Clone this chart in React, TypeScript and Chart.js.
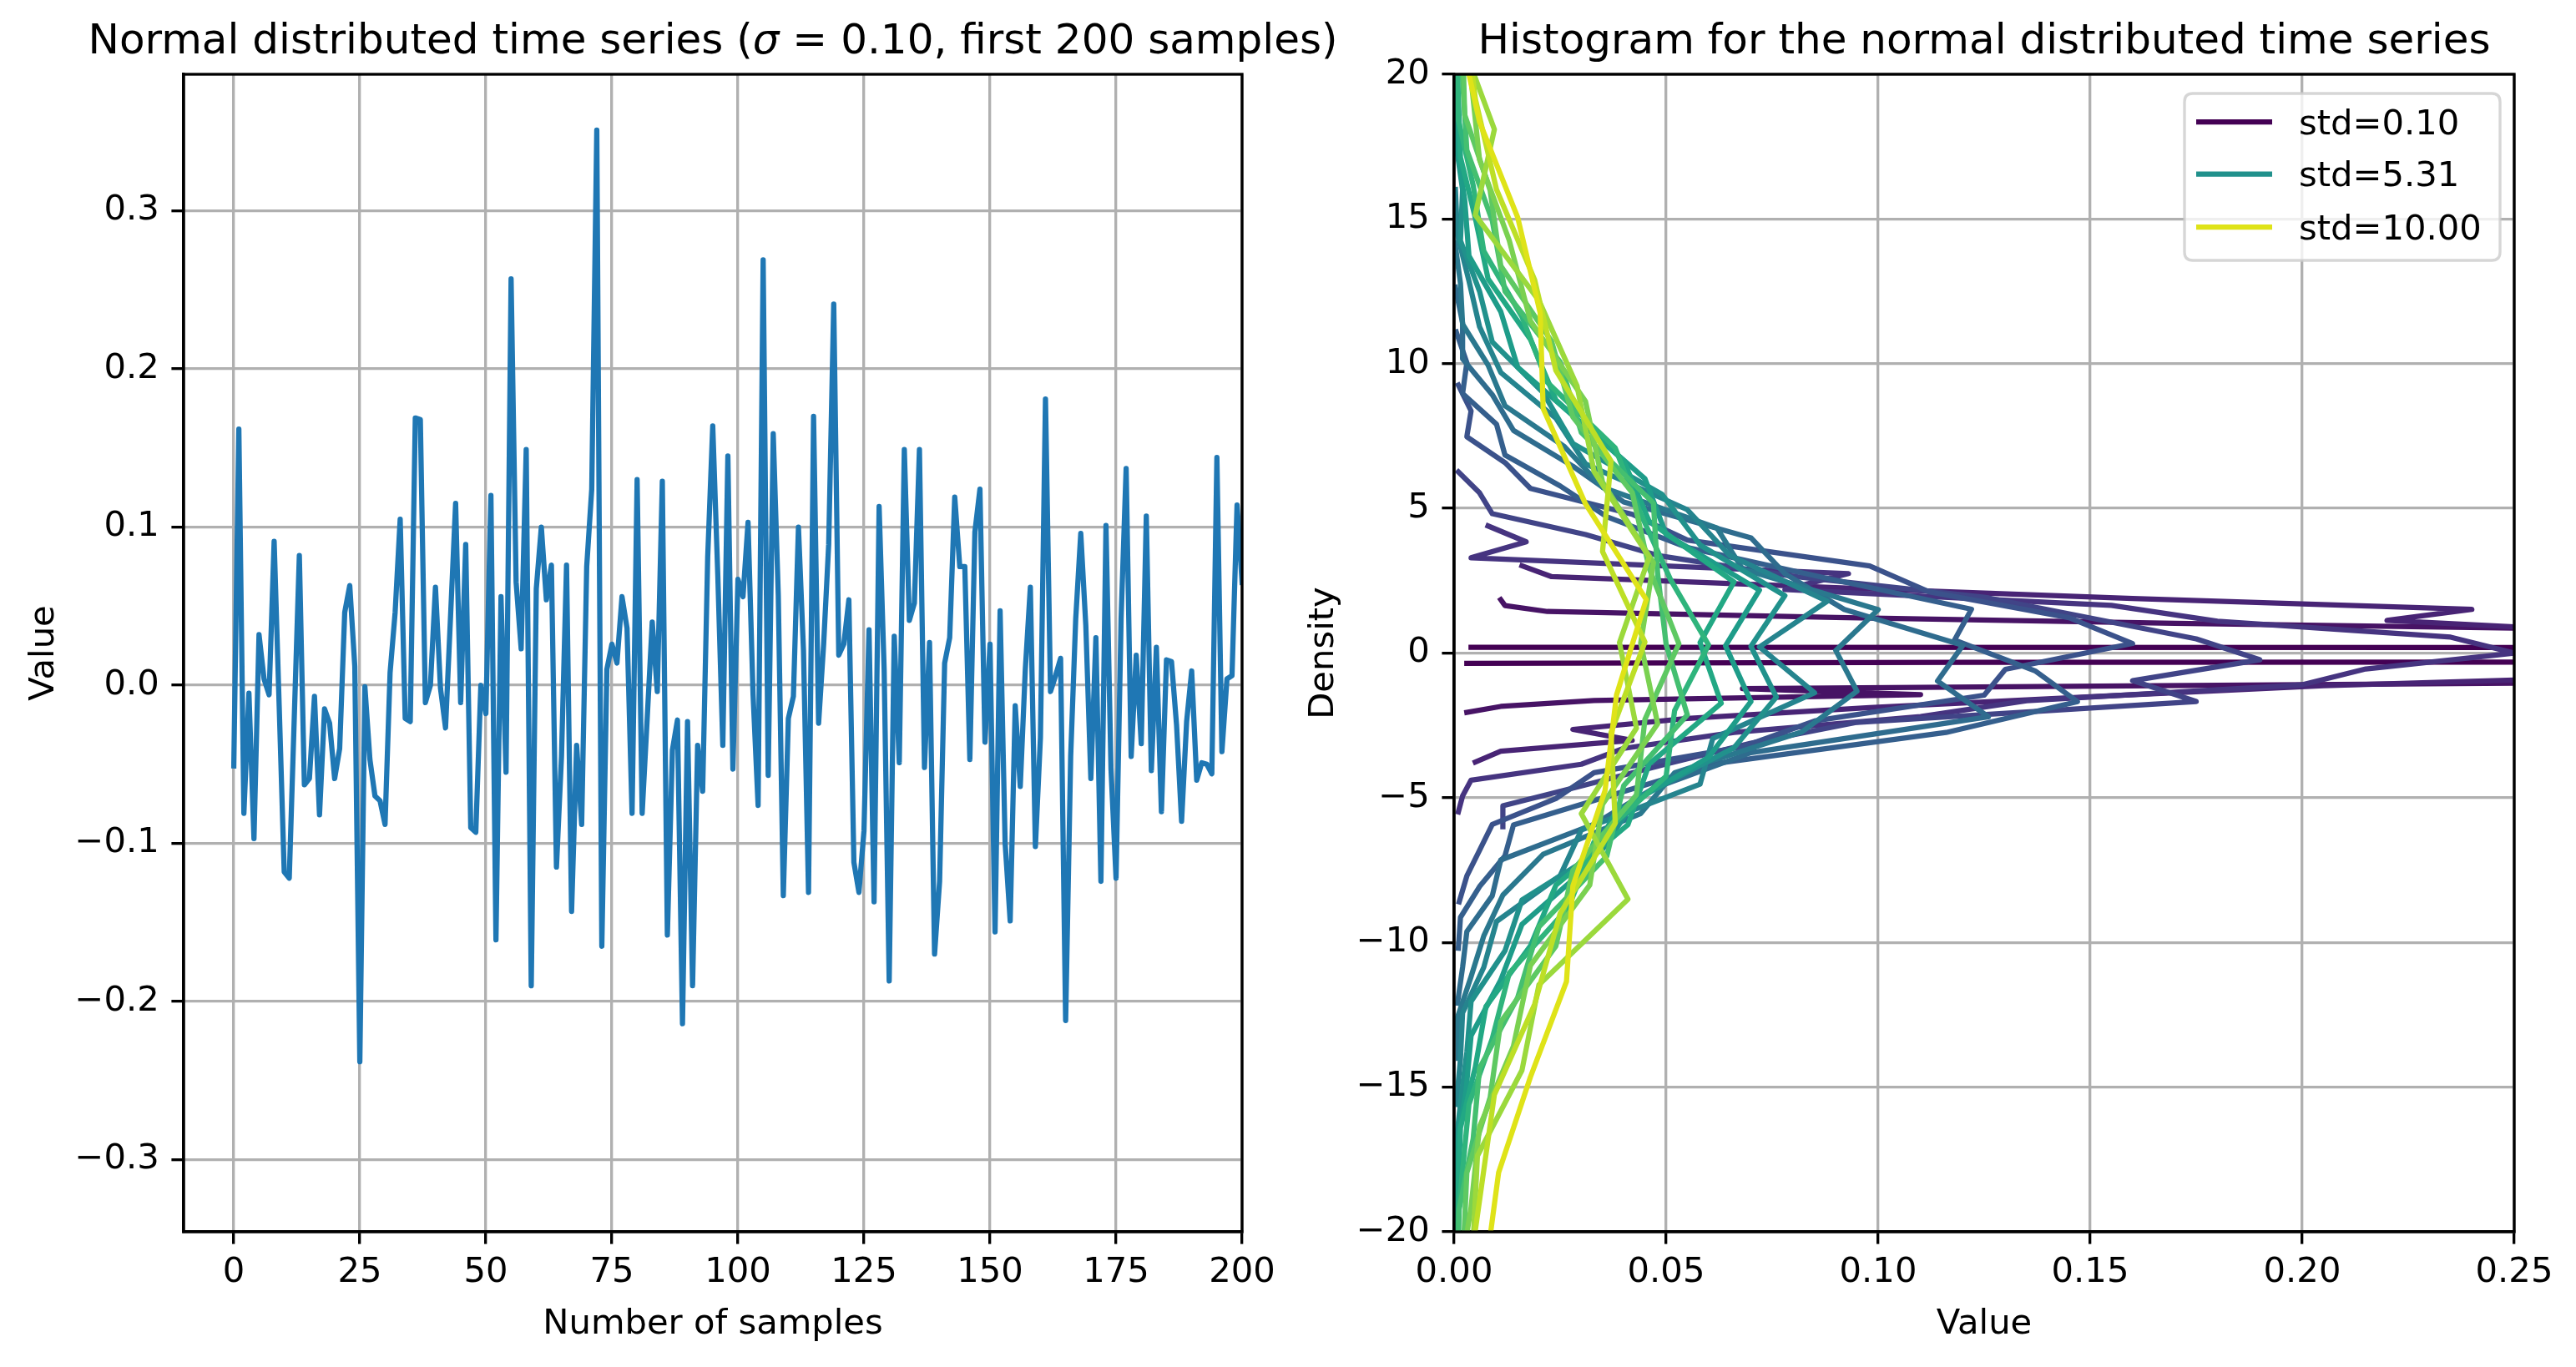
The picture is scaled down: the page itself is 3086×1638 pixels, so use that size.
import React, { useEffect, useRef } from "react";
import { Chart, registerables } from "chart.js";

Chart.register(...registerables);

const FONT_FAMILY = "'DejaVu Sans', 'Liberation Sans', sans-serif";
const TICK_SIZE = 41.7;
const LABEL_SIZE = 41.7;
const TITLE_SIZE = 50;
const LINE_W = 6.25;
const SPINE_W = 3.33;
const GRID_COLOR = "#b0b0b0";

// ---------- Left chart data: first 200 samples of the sigma = 0.10 series ----------
const timeSeries = [
  -0.051, 0.162, -0.081, -0.005, -0.097, 0.032, 0.004, -0.006, 0.091, -0.013,
  -0.118, -0.122, -0.02, 0.082, -0.063, -0.059, -0.007, -0.082, -0.015, -0.024,
  -0.059, -0.04, 0.046, 0.063, 0.012, -0.238, -0.001, -0.047, -0.07, -0.073,
  -0.088, 0.008, 0.046, 0.105, -0.021, -0.023, 0.169, 0.168, -0.011, 0.0,
  0.062, -0.002, -0.027, 0.044, 0.115, -0.011, 0.089, -0.09, -0.093, 0.0,
  -0.018, 0.12, -0.161, 0.056, -0.055, 0.257, 0.065, 0.023, 0.149, -0.19,
  0.061, 0.1, 0.054, 0.076, -0.115, -0.045, 0.076, -0.143, -0.038, -0.088,
  0.075, 0.124, 0.351, -0.165, 0.01, 0.026, 0.014, 0.056, 0.036, -0.081,
  0.13, -0.081, -0.021, 0.04, -0.004, 0.129, -0.158, -0.041, -0.022, -0.214,
  -0.023, -0.19, -0.038, -0.067, 0.081, 0.164, 0.07, -0.038, 0.145, -0.053,
  0.067, 0.056, 0.103, -0.006, -0.076, 0.269, -0.057, 0.159, 0.057, -0.133,
  -0.021, -0.007, 0.1, 0.022, -0.131, 0.17, -0.024, 0.026, 0.089, 0.241,
  0.019, 0.026, 0.054, -0.112, -0.131, -0.092, 0.035, -0.137, 0.113, 0.01,
  -0.187, 0.031, -0.049, 0.149, 0.041, 0.052, 0.149, -0.052, 0.027, -0.17,
  -0.124, 0.014, 0.03, 0.119, 0.075, 0.075, -0.047, 0.097, 0.124, -0.036,
  0.026, -0.156, 0.047, -0.1, -0.149, -0.013, -0.064, 0.01, 0.062, -0.102,
  -0.033, 0.181, -0.004, 0.006, 0.017, -0.212, -0.045, 0.042, 0.096, 0.038,
  -0.059, 0.03, -0.124, 0.101, -0.053, -0.122, 0.042, 0.137, -0.045, 0.019,
  -0.037, 0.107, -0.054, 0.024, -0.08, 0.016, 0.015, -0.025, -0.086, -0.023,
  0.009, -0.06, -0.049, -0.05, -0.056, 0.144, -0.042, 0.004, 0.006, 0.114,
  0.065,
];
const leftXTicks = [0, 25, 50, 75, 100, 125, 150, 175, 200];
const leftXTickLabels = ["0", "25", "50", "75", "100", "125", "150", "175", "200"];
const leftYTicks = [-0.3, -0.2, -0.1, 0.0, 0.1, 0.2, 0.3];
const leftYTickLabels = ["\u22120.3", "\u22120.2", "\u22120.1", "0.0", "0.1", "0.2", "0.3"];

// ---------- Right chart data: histograms (density on x, bin centre on y) ----------
const stds = [0.10, 0.62, 1.14, 1.66, 2.18, 2.71, 3.23, 3.75, 4.27, 4.79, 5.31, 5.83, 6.35, 6.87, 7.40, 7.92, 8.44, 8.96, 9.48, 10.00];
const binStarts = [-0.36, -2.05, -3.77, -5.49, -6.0, -8.6, -10.2, -12.1, -14.0, -15.6, -17.3, -19.0, -20.6, -22.4, -24.1, -25.8, -27.5, -29.2, -30.9, -31.15];
const binWidths = [0.04, 0.205, 0.377, 0.549, 0.721, 0.893, 1.065, 1.237, 1.409, 1.581, 1.753, 1.925, 2.096, 2.268, 2.44, 2.612, 2.784, 2.956, 3.128, 3.3];
const seriesColors = [
  "#440154", "#471365", "#482475", "#463480", "#414487", "#3b528b", "#355f8d", "#2f6c8e", "#2a788e", "#25848e",
  "#21918c", "#1e9c89", "#22a884", "#2fb47c", "#44bf70", "#5ec962", "#7ad151", "#9bd93c", "#bddf26", "#dfe318",
];
const legendIndices = [0, 10, 19];

const dens0 = [0.003, 0.12, 0.75, 1.4, 2.3, 3.1, 3.6, 4.1, 4.3, 4.0, 3.6, 3.0, 2.0, 0.9, 0.004];
const dens1 = [0.003, 0.011, 0.033, 0.11, 0.068, 0.27, 0.40, 0.50, 0.61, 0.63, 0.66, 0.60, 0.54, 0.40, 0.27, 0.17, 0.09, 0.022, 0.012, 0.011];
const dens2 = [0.005, 0.011, 0.042, 0.028, 0.055, 0.098, 0.15, 0.205, 0.29, 0.325, 0.36, 0.34, 0.27, 0.22, 0.24, 0.16, 0.09, 0.023, 0.016];
const dens3 = [0.001, 0.002, 0.004, 0.030, 0.040, 0.066, 0.11, 0.135, 0.20, 0.215, 0.25, 0.235, 0.18, 0.155, 0.078, 0.093, 0.004, 0.017, 0.008];
const dens4 = [0.0115, 0.0115, 0.031, 0.05, 0.07, 0.095, 0.175, 0.16, 0.19, 0.175, 0.15, 0.125, 0.08, 0.048, 0.031, 0.009, 0.006, 0.001];
const dens5 = [0.0012, 0.003, 0.006, 0.009, 0.024, 0.033, 0.068, 0.085, 0.125, 0.13, 0.16, 0.145, 0.112, 0.098, 0.055, 0.042, 0.018, 0.012, 0.003, 0.004, 0.001];
const dens6 = [0.001, 0.0015, 0.006, 0.012, 0.014, 0.038, 0.062, 0.116, 0.147, 0.137, 0.118, 0.122, 0.088, 0.055, 0.036, 0.025, 0.012, 0.01, 0.002, 0.003, 0.0005];
const dens7 = [0.0008, 0.002, 0.003, 0.009, 0.011, 0.033, 0.047, 0.07, 0.126, 0.114, 0.12, 0.092, 0.078, 0.07, 0.04, 0.028, 0.014, 0.009, 0.002, 0.002, 0.0003];
const dens8 = [0.001, 0.0008, 0.004, 0.007, 0.0115, 0.021, 0.044, 0.052, 0.082, 0.095, 0.09, 0.1, 0.068, 0.062, 0.035, 0.026, 0.012, 0.008, 0.002, 0.0015, 0.0002];
const dens9 = [0.0005, 0.0015, 0.002, 0.007, 0.01, 0.025, 0.03, 0.058, 0.061, 0.085, 0.072, 0.088, 0.065, 0.055, 0.031, 0.024, 0.011, 0.006, 0.0035, 0.0008, 0.0003];
const dens10 = [0.0002, 0.0015, 0.003, 0.004, 0.012, 0.016, 0.035, 0.043, 0.066, 0.076, 0.07, 0.078, 0.058, 0.049, 0.028, 0.021, 0.009, 0.006, 0.0015, 0.002, 0.0003];
const dens11 = [0.0004, 0.0006, 0.0028, 0.004, 0.011, 0.016, 0.031, 0.038, 0.06, 0.07, 0.064, 0.072, 0.05, 0.045, 0.03, 0.015, 0.011, 0.0035, 0.0025, 0.0006, 0.0002];
const dens12 = [0.0003, 0.001, 0.0015, 0.005, 0.0075, 0.018, 0.024, 0.041, 0.046, 0.063, 0.058, 0.066, 0.046, 0.04, 0.024, 0.018, 0.008, 0.005, 0.0015, 0.001, 0.0002];
const dens13 = [0.0002, 0.0005, 0.002, 0.0035, 0.009, 0.013, 0.027, 0.033, 0.05, 0.052, 0.06, 0.051, 0.044, 0.038, 0.022, 0.016, 0.007, 0.0045, 0.001, 0.0008, 0.0001];
const dens14 = [0.0001, 0.0008, 0.0012, 0.0045, 0.006, 0.015, 0.02, 0.036, 0.04, 0.055, 0.05, 0.048, 0.047, 0.03, 0.025, 0.012, 0.009, 0.003, 0.002, 0.0004, 0.0002];
const dens15 = [0.0003, 0.0004, 0.0022, 0.003, 0.0085, 0.011, 0.024, 0.028, 0.043, 0.045, 0.053, 0.046, 0.042, 0.028, 0.023, 0.011, 0.0085, 0.0025, 0.002, 0.0004, 0.0002];
const dens16 = [0.0001, 0.0007, 0.001, 0.004, 0.006, 0.014, 0.018, 0.032, 0.035, 0.048, 0.044, 0.047, 0.035, 0.031, 0.018, 0.013, 0.006, 0.004, 0.0012, 0.0006, 0.0001];
const dens17 = [0.0002, 0.0004, 0.0016, 0.0045, 0.0055, 0.016, 0.02, 0.041, 0.03, 0.043, 0.039, 0.046, 0.033, 0.029, 0.02, 0.005, 0.0095, 0.002, 0.0012, 0.0005, 0.0001];
const dens18 = [0.0001, 0.0006, 0.0011, 0.0035, 0.0065, 0.0095, 0.019, 0.025, 0.038, 0.037, 0.045, 0.035, 0.037, 0.024, 0.019, 0.01, 0.005, 0.0025, 0.0014, 0.0004, 0.0001];
const dens19 = [0.0002, 0.0005, 0.0014, 0.0075, 0.0105, 0.018, 0.0265, 0.028, 0.0356, 0.0383, 0.0453, 0.031, 0.021, 0.0203, 0.015, 0.006, 0.001, 0.0012, 0.0004, 0.0001, 0.0001];
const densities = [dens0, dens1, dens2, dens3, dens4, dens5, dens6, dens7, dens8, dens9, dens10, dens11, dens12, dens13, dens14, dens15, dens16, dens17, dens18, dens19];

const rightXTicks = [0, 0.05, 0.1, 0.15, 0.2, 0.25];
const rightXTickLabels = ["0.00", "0.05", "0.10", "0.15", "0.20", "0.25"];
const rightYTicks = [-20, -15, -10, -5, 0, 5, 10, 15, 20];
const rightYTickLabels = ["\u221220", "\u221215", "\u221210", "\u22125", "0", "5", "10", "15", "20"];

// ---------- helpers ----------
type Piece = { text: string; italic?: boolean };

function fontStr(size: number, italic?: boolean) {
  return `${italic ? "italic " : ""}${size}px ${FONT_FAMILY}`;
}

function drawCentered(ctx: CanvasRenderingContext2D, pieces: Piece[], cx: number, baseline: number, size: number) {
  let total = 0;
  const widths = pieces.map((p) => {
    ctx.font = fontStr(size, p.italic);
    const w = ctx.measureText(p.text).width;
    total += w;
    return w;
  });
  let x = cx - total / 2;
  ctx.textAlign = "left";
  ctx.textBaseline = "alphabetic";
  pieces.forEach((p, i) => {
    ctx.font = fontStr(size, p.italic);
    ctx.fillText(p.text, x, baseline);
    x += widths[i];
  });
}

type DecorOpts = {
  title: Piece[];
  xLabel: string;
  yLabel: string;
  yLabelX: number;
  legend?: boolean;
};

function decorPlugin(opts: DecorOpts) {
  return {
    id: "decor",
    afterDraw(chart: any) {
      const { ctx, chartArea } = chart;
      const { left, right, top, bottom } = chartArea;
      ctx.save();
      ctx.strokeStyle = "#000";
      ctx.lineWidth = SPINE_W;
      ctx.strokeRect(left, top, right - left, bottom - top);
      ctx.fillStyle = "#000";
      const cx = (left + right) / 2;
      drawCentered(ctx, opts.title, cx, 64, TITLE_SIZE);
      drawCentered(ctx, [{ text: opts.xLabel }], cx, 1598, LABEL_SIZE);
      ctx.save();
      ctx.translate(opts.yLabelX, (top + bottom) / 2);
      ctx.rotate(-Math.PI / 2);
      ctx.font = fontStr(LABEL_SIZE);
      ctx.textAlign = "center";
      ctx.textBaseline = "alphabetic";
      ctx.fillText(opts.yLabel, 0, 0);
      ctx.restore();

      if (opts.legend) {
        const bw = 378;
        const bh = 200;
        const bx = right - 17 - bw;
        const by = top + 23;
        const r = 10;
        ctx.beginPath();
        ctx.moveTo(bx + r, by);
        ctx.lineTo(bx + bw - r, by);
        ctx.quadraticCurveTo(bx + bw, by, bx + bw, by + r);
        ctx.lineTo(bx + bw, by + bh - r);
        ctx.quadraticCurveTo(bx + bw, by + bh, bx + bw - r, by + bh);
        ctx.lineTo(bx + r, by + bh);
        ctx.quadraticCurveTo(bx, by + bh, bx, by + bh - r);
        ctx.lineTo(bx, by + r);
        ctx.quadraticCurveTo(bx, by, bx + r, by);
        ctx.closePath();
        ctx.fillStyle = "rgba(255,255,255,0.8)";
        ctx.fill();
        ctx.strokeStyle = "rgba(204,204,204,0.8)";
        ctx.lineWidth = SPINE_W;
        ctx.stroke();
        const rows = [34, 96.5, 160];
        legendIndices.forEach((si, j) => {
          const ry = by + rows[j];
          ctx.strokeStyle = seriesColors[si];
          ctx.lineWidth = LINE_W;
          ctx.lineCap = "butt";
          ctx.beginPath();
          ctx.moveTo(bx + 14, ry);
          ctx.lineTo(bx + 105, ry);
          ctx.stroke();
          ctx.fillStyle = "#000";
          ctx.font = fontStr(LABEL_SIZE);
          ctx.textAlign = "left";
          ctx.textBaseline = "alphabetic";
          ctx.fillText(`std=${stds[si].toFixed(2)}`, bx + 137, ry + 14.5);
        });
      }
      ctx.restore();
    },
  };
}

function axisCommon(ticks: number[], labels: string[], padding: number) {
  return {
    type: "linear" as const,
    afterBuildTicks: (scale: any) => {
      scale.ticks = ticks.map((v) => ({ value: v }));
    },
    grid: {
      color: GRID_COLOR,
      lineWidth: SPINE_W,
      drawTicks: true,
      tickLength: 14.6,
      tickColor: "#000",
      tickWidth: SPINE_W,
    },
    border: { display: true, color: "#000", width: SPINE_W },
    ticks: {
      color: "#000",
      font: { family: FONT_FAMILY, size: TICK_SIZE },
      padding,
      maxRotation: 0,
      autoSkip: false,
      callback: (_v: any, i: number) => labels[i],
    },
  };
}

const LEFT_W = 1720;
const RIGHT_X = 1560;
const RIGHT_W = 3086 - RIGHT_X;

function leftConfig(): any {
  return {
    type: "line",
    data: {
      datasets: [
        {
          data: timeSeries.map((v, i) => ({ x: i, y: v })),
          borderColor: "#1f77b4",
          borderWidth: LINE_W,
          pointRadius: 0,
          tension: 0,
          fill: false,
          clip: 0,
          borderJoinStyle: "round",
          borderCapStyle: "square",
        },
      ],
    },
    options: {
      animation: false,
      responsive: false,
      maintainAspectRatio: false,
      devicePixelRatio: 1,
      events: [],
      layout: { padding: { left: 0, top: 89, right: LEFT_W - 1488, bottom: 0 } },
      plugins: { legend: { display: false }, tooltip: { enabled: false }, title: { display: false } },
      scales: {
        x: {
          ...axisCommon(leftXTicks, leftXTickLabels, 10),
          min: -9.95,
          max: 200,
          afterFit: (s: any) => {
            s.height = 162;
          },
        },
        y: {
          ...axisCommon(leftYTicks, leftYTickLabels, 14.6),
          min: -0.3456,
          max: 0.3863,
          afterFit: (s: any) => {
            s.width = 220;
          },
        },
      },
    },
    plugins: [
      decorPlugin({
        title: [
          { text: "Normal distributed time series (" },
          { text: "\u03c3", italic: true },
          { text: " = 0.10, first 200 samples)" },
        ],
        xLabel: "Number of samples",
        yLabel: "Value",
        yLabelX: 64,
      }),
    ],
  };
}

function rightConfig(): any {
  const n = densities.length;
  return {
    type: "line",
    data: {
      datasets: densities.map((d, i) => ({
        label: `std=${stds[i].toFixed(2)}`,
        data: d.map((v, k) => ({ x: v, y: binStarts[i] + k * binWidths[i] })),
        borderColor: seriesColors[i],
        borderWidth: LINE_W,
        pointRadius: 0,
        tension: 0,
        fill: false,
        clip: 0,
        order: n - 1 - i,
        borderJoinStyle: "round",
        borderCapStyle: "square",
      })),
    },
    options: {
      animation: false,
      responsive: false,
      maintainAspectRatio: false,
      devicePixelRatio: 1,
      events: [],
      layout: { padding: { left: 0, top: 89, right: 74, bottom: 0 } },
      plugins: { legend: { display: false }, tooltip: { enabled: false }, title: { display: false } },
      scales: {
        x: {
          ...axisCommon(rightXTicks, rightXTickLabels, 10),
          min: 0,
          max: 0.25,
          afterFit: (s: any) => {
            s.height = 162;
          },
        },
        y: {
          ...axisCommon(rightYTicks, rightYTickLabels, 14.6),
          min: -20,
          max: 20,
          afterFit: (s: any) => {
            s.width = 182;
          },
        },
      },
    },
    plugins: [
      decorPlugin({
        title: [{ text: "Histogram for the normal distributed time series" }],
        xLabel: "Value",
        yLabel: "Density",
        yLabelX: 37,
        legend: true,
      }),
    ],
  };
}

export default function App() {
  const leftRef = useRef<HTMLCanvasElement>(null);
  const rightRef = useRef<HTMLCanvasElement>(null);

  useEffect(() => {
    const c1 = new Chart(leftRef.current as HTMLCanvasElement, leftConfig());
    const c2 = new Chart(rightRef.current as HTMLCanvasElement, rightConfig());
    return () => {
      c1.destroy();
      c2.destroy();
    };
  }, []);

  return (
    <div style={{ position: "fixed", left: 0, top: 0, width: 3086, height: 1638, background: "#fff" }}>
      <canvas
        ref={leftRef}
        width={LEFT_W}
        height={1638}
        style={{ position: "absolute", left: 0, top: 0, width: LEFT_W, height: 1638 }}
      />
      <canvas
        ref={rightRef}
        width={RIGHT_W}
        height={1638}
        style={{ position: "absolute", left: RIGHT_X, top: 0, width: RIGHT_W, height: 1638 }}
      />
    </div>
  );
}
